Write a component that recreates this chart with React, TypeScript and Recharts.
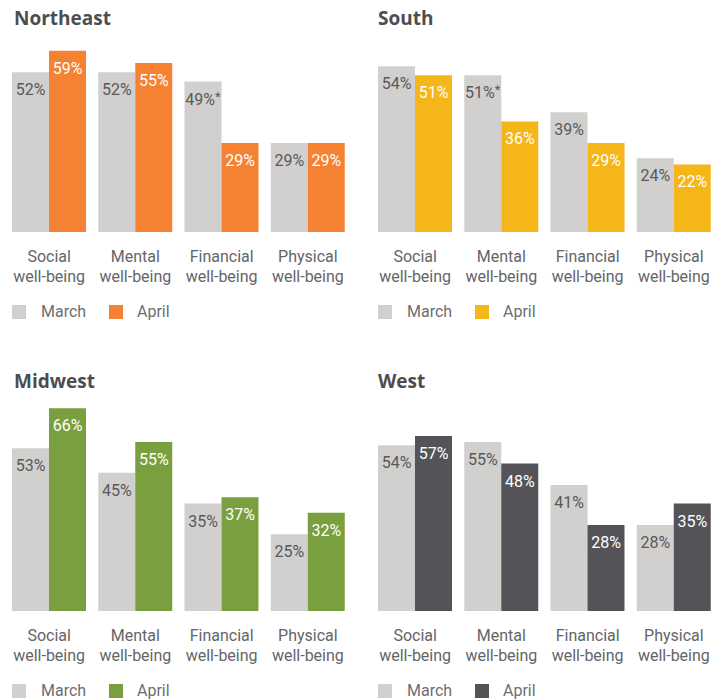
import React from 'react';
import { BarChart, Bar, XAxis, YAxis, LabelList, Legend } from 'recharts';

const categories = ['Social', 'Mental', 'Financial', 'Physical'];
const categorySuffix = 'well-being';
const seriesNames = ['March', 'April'];

const northeastMarch = [52, 52, 49, 29];
const northeastApril = [59, 55, 29, 29];
const southMarch = [54, 51, 39, 24];
const southApril = [51, 36, 29, 22];
const midwestMarch = [53, 45, 35, 25];
const midwestApril = [66, 55, 37, 32];
const westMarch = [54, 55, 41, 28];
const westApril = [57, 48, 28, 35];

const northeastMarchNotes = ['', '', '*', ''];
const southMarchNotes = ['', '*', '', ''];
const noNotes = ['', '', '', ''];

const MARCH_COLOR = '#d1d0ce';
const TEXT_GRAY = '#58595b';
const AXIS_GRAY = '#646567';
const FONT = 'Roboto, sans-serif';

type PanelProps = {
  title: string;
  march: number[];
  april: number[];
  notes: string[];
  color: string;
  left: number;
  top: number;
};

const CategoryTick = (props: any) => {
  const { x, y, payload } = props;
  return (
    <text x={x} y={y} textAnchor="middle" fill={AXIS_GRAY} fontFamily={FONT} fontSize={16}>
      <tspan x={x} dy={30}>{payload.value}</tspan>
      <tspan x={x} dy={20}>{categorySuffix}</tspan>
    </text>
  );
};

const makeLabel = (fill: string, notes: string[]) => (props: any) => {
  const { x, y, width, value, index } = props;
  const note = notes[index] || '';
  return (
    <text x={Number(x) + Number(width) / 2} y={Number(y) + 23} textAnchor="middle" fill={fill} fontFamily={FONT} fontSize={16}>
      {value}%
      {note ? <tspan dy={-4} fontSize={13}>{note}</tspan> : null}
    </text>
  );
};

const LegendContent = (props: any) => {
  const payload = [...(props.payload || [])].sort(
    (a: any, b: any) => seriesNames.indexOf(a.value) - seriesNames.indexOf(b.value)
  );
  return (
    <div style={{ display: 'flex', alignItems: 'center', fontFamily: FONT, fontSize: 16, color: '#6d6e71' }}>
      {payload.map((p: any, i: number) => (
        <div key={i} style={{ display: 'flex', alignItems: 'center', width: i === 0 ? 97 : 80 }}>
          <div style={{ width: 14, height: 14, background: p.color, marginRight: i === 0 ? 15 : 14 }} />
          <span style={{ lineHeight: '20px' }}>{p.value}</span>
        </div>
      ))}
    </div>
  );
};

const Panel = ({ title, march, april, notes, color, left, top }: PanelProps) => {
  const data = categories.map((c, i) => ({ category: c, march: march[i], april: april[i] }));
  return (
    <div style={{ position: 'absolute', left, top, width: 360, height: 330 }}>
      <BarChart width={360} height={330} data={data} margin={{ top: 17, right: 9, bottom: 0, left: 6 }} barGap={0}>
        <XAxis dataKey="category" axisLine={false} tickLine={false} tickSize={0} tickMargin={0} height={98} tick={<CategoryTick />} interval={0} />
        <YAxis hide domain={[0, 70]} />
        <Legend
          verticalAlign="middle"
          align="center"
          layout="horizontal"
          content={<LegendContent />}
          wrapperStyle={{ top: 302, left: 12, width: 220, height: 20 }}
        />
        <Bar dataKey="march" name={seriesNames[0]} fill={MARCH_COLOR} barSize={37} isAnimationActive={false}>
          <LabelList dataKey="march" content={makeLabel(TEXT_GRAY, notes)} />
        </Bar>
        <Bar dataKey="april" name={seriesNames[1]} fill={color} barSize={37} isAnimationActive={false}>
          <LabelList dataKey="april" content={makeLabel('#ffffff', noNotes)} />
        </Bar>
      </BarChart>
    </div>
  );
};

const Title = ({ text, left, baseline }: { text: string; left: number; baseline: number }) => (
  <div
    style={{
      position: 'absolute',
      left,
      top: baseline - 20.3,
      fontFamily: '"Open Sans", sans-serif',
      fontWeight: 700,
      fontSize: 19,
      lineHeight: 'normal',
      color: '#4d4d4f',
      whiteSpace: 'nowrap',
    }}
  >
    {text}
  </div>
);

export default function App() {
  return (
    <div style={{ position: 'absolute', left: 0, top: 0, width: 725, height: 700, overflow: 'hidden', background: '#fff' }}>
      <Panel title="Northeast" march={northeastMarch} april={northeastApril} notes={northeastMarchNotes} color="#f58232" left={0} top={0} />
      <Panel title="South" march={southMarch} april={southApril} notes={southMarchNotes} color="#f4b618" left={366} top={0} />
      <Panel title="Midwest" march={midwestMarch} april={midwestApril} notes={noNotes} color="#7a9f3e" left={0} top={379} />
      <Panel title="West" march={westMarch} april={westApril} notes={noNotes} color="#545458" left={366} top={379} />
      <Title text="Northeast" left={14} baseline={25} />
      <Title text="South" left={378} baseline={25} />
      <Title text="Midwest" left={14} baseline={388} />
      <Title text="West" left={378} baseline={388} />
    </div>
  );
}
